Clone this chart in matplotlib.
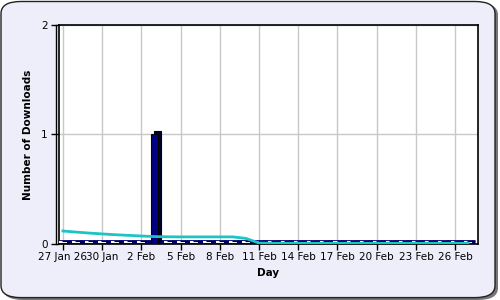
import matplotlib
matplotlib.use("Agg")
import matplotlib.pyplot as plt
import matplotlib.transforms as mtransforms
from matplotlib.patches import FancyBboxPatch

# daily downloads, 27 Jan .. 27 Feb
days = list(range(32))
downloads = [0] * 32
downloads[7] = 1
trend = [0.118, 0.108, 0.099, 0.091, 0.084, 0.078, 0.072, 0.067,
         0.065, 0.064, 0.064, 0.064, 0.064, 0.064, 0.05, 0.008,
         0.006, 0.006, 0.006, 0.006, 0.006, 0.006, 0.006, 0.006,
         0.006, 0.006, 0.006, 0.006, 0.006, 0.006, 0.006, 0.006]
tick_days = [0, 3, 6, 9, 12, 15, 18, 21, 24, 27, 30]
tick_labels = ["27 Jan 26", "30 Jan", "2 Feb", "5 Feb", "8 Feb", "11 Feb",
               "14 Feb", "17 Feb", "20 Feb", "23 Feb", "26 Feb"]

fig = plt.figure(figsize=(5, 3), dpi=100)
fig.patch.set_facecolor("white")
# rounded panel with shadow
shadow = FancyBboxPatch((0.006, 0.0), 0.99, 0.99, boxstyle="round,pad=0,rounding_size=0.04",
                        transform=fig.transFigure, facecolor="#777777", edgecolor="none", zorder=-2)
panel = FancyBboxPatch((0.002, 0.008), 0.988, 0.987, boxstyle="round,pad=0,rounding_size=0.04",
                       transform=fig.transFigure, facecolor="#EEEEFB", edgecolor="#222222",
                       linewidth=1, zorder=-1)
fig.patches.extend([shadow, panel])

ax = fig.add_axes([0.118, 0.187, 0.838, 0.73])
ax.set_zorder(1)
ax.set_xlim(-0.3, 31.75)
ax.set_ylim(0, 2)
ax.set_facecolor("white")
ax.grid(True, color="#c8c8c8", linewidth=1)
ax.set_axisbelow(True)

off = mtransforms.ScaledTranslation(3 / 100, 3 / 100, fig.dpi_scale_trans)
up = mtransforms.ScaledTranslation(0, 1.5 / 100, fig.dpi_scale_trans)
left = mtransforms.ScaledTranslation(-3 / 100, 0, fig.dpi_scale_trans)

# 3D wall line on the left
ax.plot([0, 0], [0, 1], color="black", linewidth=1, transform=ax.transAxes + left,
        clip_on=False, zorder=2)

# 3D floor strip
ax.plot([days[0] - 0.3, days[-1] + 0.5], [0, 0], color="#000070", linewidth=3.5,
        transform=ax.transData + up, solid_capstyle="butt", zorder=2)
ax.scatter(days, downloads, marker="_", s=30, color="white", linewidths=1.5,
           transform=ax.transData + up, zorder=3)

# bars with depth
ax.bar(days, downloads, width=0.6, color="#000030", edgecolor="black", linewidth=0.8,
       transform=ax.transData + off, zorder=3)
ax.bar(days, downloads, width=0.6, color="#000080", edgecolor="black", linewidth=0.8, zorder=4)

ax.plot(days, trend, color="#1cc4c4", linewidth=2, zorder=5)

ax.set_xticks(tick_days)
ax.set_xticklabels(tick_labels)
ax.set_yticks([0, 1, 2])
ax.tick_params(axis="x", direction="out", length=4, width=1, labelsize=7.5, pad=2)
ax.tick_params(axis="y", direction="out", length=6, width=1, labelsize=7.5, pad=2)
for s in ax.spines.values():
    s.set_linewidth(1.2)
ax.set_xlabel("Day", fontsize=7.5, fontweight="bold", labelpad=4)
ax.set_ylabel("Number of Downloads", fontsize=7.5, fontweight="bold", labelpad=6)

fig.savefig("out.png", dpi=100)
